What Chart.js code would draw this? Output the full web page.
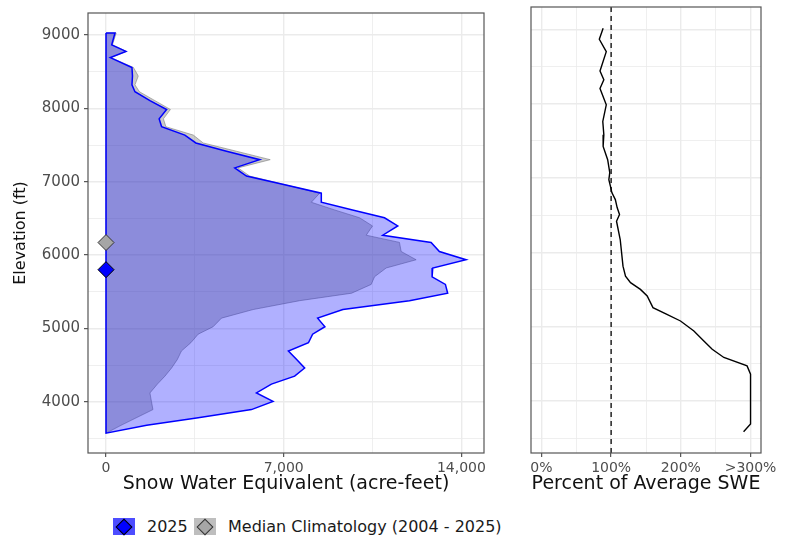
<!DOCTYPE html>
<html>
<head>
<meta charset="utf-8">
<script src="https://cdn.jsdelivr.net/npm/chart.js@4"></script>
<style>
  body { margin: 0; background: #fff; width: 792px; height: 538px; overflow: hidden; position: relative; font-family: 'DejaVu Sans', sans-serif; }
  canvas { position: absolute; top: 0; }
  #sweChart { left: 0; }
  #pctChart { left: 500px; }
  .key { position: absolute; top: 518px; width: 22px; height: 17px; }
  .dia { position: absolute; left: 5px; top: 2.5px; width: 10px; height: 10px; border: 1px solid; box-sizing: content-box; transform: rotate(45deg); }
  .lab { position: absolute; top: 518px; line-height: 17px; font-size: 16px; color: #1a1a1a; white-space: nowrap; }
</style>
</head>
<body>
<canvas id="sweChart" width="500" height="500"></canvas>
<canvas id="pctChart" width="292" height="500"></canvas>

<div class="key" style="left:113px;background:#4d4dff"><div class="dia" style="background:#0000ff;border-color:#000"></div></div>
<span class="lab" style="left:147px">2025</span>
<div class="key" style="left:194px;background:#bebebe"><div class="dia" style="background:#a6a6a6;border-color:#333"></div></div>
<span class="lab" style="left:228px">Median Climatology (2004 - 2025)</span>

<script>
// elevation bands (ft), top to bottom
var elevFt = [9027, 8866, 8776, 8691, 8557, 8440, 8320, 8226, 8105, 7984,
              7857, 7749, 7635, 7528, 7414, 7300, 7188, 7076, 6960, 6843,
              6719, 6615, 6508, 6396, 6270, 6172, 6048, 5935, 5823, 5703,
              5599, 5479, 5377, 5256, 5139, 5022, 4920, 4804, 4690, 4576,
              4459, 4348, 4240, 4119, 4003, 3892, 3778, 3677, 3570];
// SWE in acre-feet
var swe2025 = [354, 224, 786, 169, 1022, 1042, 1022, 1140, 1730, 2387,
               2092, 2190, 3106, 3539, 4746, 6055, 5072, 5532, 6999, 8481,
               8481, 9712, 10970, 11493, 10903, 12806, 13133, 14183, 12870, 12846,
               13369, 13459, 11953, 9331, 8336, 8623, 8139, 7974, 7184, 7510,
               7825, 7431, 6515, 5925, 6578, 5729, 3566, 1600, 0];
var sweMedian = [400, 255, 806, 197, 1081, 1270, 1140, 1317, 1927, 2536,
                 2261, 2359, 3440, 3826, 5151, 6468, 5200, 5662, 7038, 8415,
                 8088, 9000, 9987, 10498, 10251, 11560, 11627, 12217, 11037, 10577,
                 10447, 9673, 7628, 5792, 4549, 4219, 3629, 3342, 2969, 2811,
                 2583, 2320, 2025, 1730, 1789, 1848, 1180, 590, 0];
// median SWE elevation markers
var medianElev2025 = 5800;
var medianElevClim = 6170;

// percent of average SWE by elevation
var pctElevFt = [9013, 8866, 8699, 8440, 8320, 8203, 7984, 7760, 7581, 7424,
                 7246, 7072, 6978, 6888, 6803, 6709, 6602, 6508, 6418, 6172,
                 5814, 5680, 5591, 5501, 5412, 5256, 5166, 5076, 4942, 4808,
                 4696, 4585, 4472, 4361, 3690, 3586];
var pctOfAvg = [88.5, 83, 93, 84, 89.5, 84, 93, 88, 89.5, 88.5,
                95, 98, 96.7, 99, 101, 106, 108.6, 112, 107.7, 113,
                117, 120.6, 127.8, 142, 151.7, 160, 180, 199.5, 218.7, 233,
                245, 261.7, 295, 300, 300, 290];

var elevRange = [3300, 9300];
var elevGridValues = [3500, 4000, 4500, 5000, 5500, 6000, 6500, 7000, 7500, 8000, 8500, 9000];
var elevTickLabels = [4000, 5000, 6000, 7000, 8000, 9000];
var sweGridValues = [0, 3500, 7000, 10500, 14000];
var sweTickLabels = [0, 7000, 14000];
var pctGridValues = [0, 50, 100, 150, 200, 250, 300];
var pctTickValues = [0, 100, 200, 300];
var pctTickText = ['0%', '100%', '200%', '>300%'];
var avgLine = 100;

Chart.defaults.font.family = "'DejaVu Sans', sans-serif";
Chart.defaults.animation = false;

var gridCol = '#ebebeb';
var tickCol = '#4d4d4d';

var panelBox = {
    id: 'panelBox',
    afterDraw: function (chart) {
        var a = chart.chartArea, ctx = chart.ctx;
        ctx.save();
        ctx.strokeStyle = '#555';
        ctx.lineWidth = 1.2;
        ctx.strokeRect(a.left, a.top, a.right - a.left, a.bottom - a.top);
        ctx.restore();
    }
};

function polygon(vals) {
    var pts = [{x: 0, y: elevFt[0]}];
    for (var i = 0; i < elevFt.length; i++) pts.push({x: vals[i], y: elevFt[i]});
    pts.push({x: 0, y: elevFt[0]});
    return pts;
}

function isIn(list, v) { return list.indexOf(v) >= 0; }

function setTicks(values) {
    return function (scale) {
        scale.ticks = values.map(function (v) { return {value: v}; });
    };
}

function gridOpts(major, withTicks) {
    return {
        color: gridCol,
        lineWidth: function (c) { return c.tick && isIn(major, c.tick.value) ? 1.4 : 0.8; },
        tickColor: function (c) { return c.tick && isIn(major, c.tick.value) ? '#333' : 'rgba(0,0,0,0)'; },
        drawTicks: withTicks,
        tickLength: 4,
        tickWidth: 1
    };
}

new Chart(document.getElementById('sweChart'), {
    type: 'line',
    data: {
        datasets: [{
            label: '2025 median elevation',
            data: [{x: 0, y: medianElev2025}],
            showLine: false,
            pointStyle: 'rectRot',
            pointRadius: 8,
            pointBackgroundColor: '#0000ff',
            pointBorderColor: '#000',
            pointBorderWidth: 1,
            indexAxis: 'y',
            order: 0
        }, {
            label: 'Climatology median elevation',
            data: [{x: 0, y: medianElevClim}],
            showLine: false,
            pointStyle: 'rectRot',
            pointRadius: 8,
            pointBackgroundColor: '#a6a6a6',
            pointBorderColor: '#333',
            pointBorderWidth: 1,
            indexAxis: 'y',
            order: 0
        }, {
            label: '2025',
            data: polygon(swe2025),
            borderColor: '#0000ff',
            borderWidth: 1.5,
            backgroundColor: 'rgba(0,0,255,0.31)',
            fill: 'shape',
            pointRadius: 0,
            tension: 0,
            indexAxis: 'y',
            order: 1
        }, {
            label: 'Median Climatology (2004 - 2025)',
            data: polygon(sweMedian),
            borderColor: 'rgba(110,110,110,0.5)',
            borderWidth: 1,
            backgroundColor: 'rgba(128,128,128,0.42)',
            fill: 'shape',
            pointRadius: 0,
            tension: 0,
            indexAxis: 'y',
            order: 2
        }]
    },
    options: {
        responsive: false,
        indexAxis: 'y',
        events: [],
        layout: { padding: { left: 0, top: 7, right: 16, bottom: 0 } },
        plugins: { legend: { display: false }, tooltip: { enabled: false } },
        scales: {
            x: {
                type: 'linear',
                position: 'bottom',
                min: -710,
                max: 14890,
                afterBuildTicks: setTicks(sweGridValues),
                afterFit: function (s) { s.height = 47; },
                border: { display: false },
                grid: gridOpts(sweTickLabels, true),
                ticks: {
                    autoSkip: false,
                    maxRotation: 0,
                    padding: 3,
                    color: tickCol,
                    font: { size: 14 },
                    callback: function (v) { return isIn(sweTickLabels, v) ? v.toLocaleString('en-US') : ''; }
                },
                title: {
                    display: true,
                    text: 'Snow Water Equivalent (acre-feet)',
                    color: '#111',
                    font: { size: 19 },
                    padding: { top: 0, bottom: 5 }
                }
            },
            y: {
                type: 'linear',
                position: 'left',
                min: elevRange[0],
                max: elevRange[1],
                afterBuildTicks: setTicks(elevGridValues),
                afterFit: function (s) { s.width = 88; },
                border: { display: false },
                grid: gridOpts(elevTickLabels, true),
                ticks: {
                    autoSkip: false,
                    padding: 4,
                    color: tickCol,
                    font: { size: 15 },
                    callback: function (v) { return isIn(elevTickLabels, v) ? String(v) : ''; }
                },
                title: {
                    display: true,
                    text: 'Elevation (ft)',
                    color: '#111',
                    font: { size: 16 },
                    padding: { top: 11, bottom: 0 }
                }
            }
        }
    },
    plugins: [panelBox]
});

var pctPoints = [];
for (var i = 0; i < pctElevFt.length; i++) pctPoints.push({x: pctOfAvg[i], y: pctElevFt[i]});

new Chart(document.getElementById('pctChart'), {
    type: 'line',
    data: {
        datasets: [{
            label: 'Percent of average',
            data: pctPoints,
            borderColor: '#000',
            borderWidth: 1.4,
            pointRadius: 0,
            fill: false,
            tension: 0,
            indexAxis: 'y',
            order: 0
        }, {
            label: '100%',
            data: [{x: avgLine, y: elevRange[0]}, {x: avgLine, y: elevRange[1]}],
            borderColor: '#333',
            borderWidth: 1.6,
            borderDash: [5, 4],
            pointRadius: 0,
            fill: false,
            indexAxis: 'y',
            order: 1
        }]
    },
    options: {
        responsive: false,
        indexAxis: 'y',
        events: [],
        layout: { padding: { left: 0, top: 7, right: 31, bottom: 0 } },
        plugins: { legend: { display: false }, tooltip: { enabled: false } },
        scales: {
            x: {
                type: 'linear',
                position: 'bottom',
                min: -15,
                max: 315,
                afterBuildTicks: setTicks(pctGridValues),
                afterFit: function (s) { s.height = 47; },
                border: { display: false },
                grid: gridOpts(pctTickValues, true),
                ticks: {
                    autoSkip: false,
                    maxRotation: 0,
                    padding: 3,
                    color: tickCol,
                    font: { size: 14 },
                    callback: function (v) { var k = pctTickValues.indexOf(v); return k >= 0 ? pctTickText[k] : ''; }
                },
                title: {
                    display: true,
                    text: 'Percent of Average SWE',
                    color: '#111',
                    font: { size: 19 },
                    padding: { top: 0, bottom: 5 }
                }
            },
            y: {
                type: 'linear',
                position: 'left',
                min: elevRange[0],
                max: elevRange[1],
                afterBuildTicks: setTicks(elevGridValues),
                afterFit: function (s) { s.width = 31; },
                border: { display: false },
                grid: gridOpts(elevTickLabels, false),
                ticks: { autoSkip: false, display: false }
            }
        }
    },
    plugins: [panelBox]
});
</script>
</body>
</html>
